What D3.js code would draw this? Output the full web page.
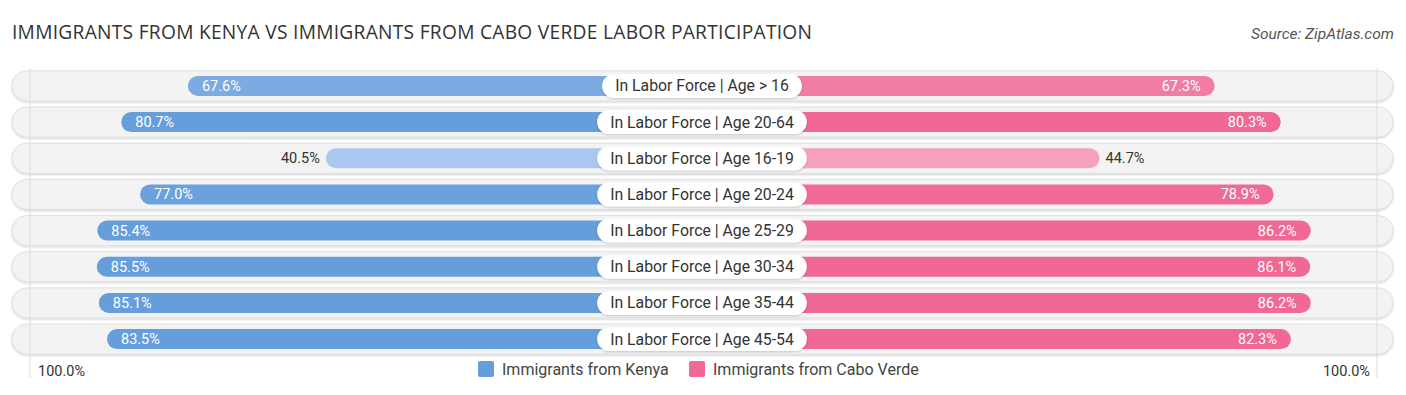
<!DOCTYPE html>
<html>
<head>
<meta charset="utf-8">
<script src="https://cdn.jsdelivr.net/npm/d3@7"></script>
<style>
  body { margin: 0; background: #fff; }
  svg { font-family: Roboto, "Open Sans", sans-serif; }
</style>
</head>
<body>
<svg id="chart" width="1406" height="395"></svg>
<script>
var categories = ["In Labor Force | Age > 16", "In Labor Force | Age 20-64", "In Labor Force | Age 16-19",
  "In Labor Force | Age 20-24", "In Labor Force | Age 25-29", "In Labor Force | Age 30-34",
  "In Labor Force | Age 35-44", "In Labor Force | Age 45-54"];
var kenya = [67.6, 80.7, 40.5, 77.0, 85.4, 85.5, 85.1, 83.5];
var caboVerde = [67.3, 80.3, 44.7, 78.9, 86.2, 86.1, 86.2, 82.3];
var seriesNames = ["Immigrants from Kenya", "Immigrants from Cabo Verde"];
var axisLabels = ["100.0%", "100.0%"];

var svg = d3.select("#chart");
var cx = 702, gap = 170;

var xl = d3.scaleLinear().domain([0, 100]).range([cx - gap, cx - gap - 509]);
var xr = d3.scaleLinear().domain([0, 100]).range([cx + gap, cx + gap + 509]);
var y = d3.scaleBand().domain(categories).range([68, 357]).paddingInner(0.17).paddingOuter(0.08);

// colour fades for the weaker values
var blue = d3.scaleLinear().domain([40, 80]).range(["#abc9ed", "#669edb"]).clamp(true);
var pink = d3.scaleLinear().domain([40, 80]).range(["#f7a9c3", "#f06894"]).clamp(true);

var defs = svg.append("defs");
var f = defs.append("filter").attr("id", "sh").attr("x", "-5%").attr("y", "-30%").attr("width", "110%").attr("height", "160%");
f.append("feDropShadow").attr("dx", 0).attr("dy", 1).attr("stdDeviation", 1).attr("flood-color", "#000").attr("flood-opacity", 0.2);

svg.append("text")
  .attr("x", 12).attr("y", 39)
  .attr("font-size", 19.2).attr("fill", "#333")
  .attr("textLength", 800).attr("lengthAdjust", "spacing")
  .style("font-family", "'Open Sans', sans-serif")
  .text("IMMIGRANTS FROM KENYA VS IMMIGRANTS FROM CABO VERDE LABOR PARTICIPATION");

svg.append("text")
  .attr("x", 1394).attr("y", 39).attr("text-anchor", "end")
  .attr("font-size", 15.5).attr("font-style", "italic").attr("fill", "#555")
  .text("Source: ZipAtlas.com");

var rows = svg.selectAll("g.row").data(categories).enter().append("g").attr("class", "row")
  .attr("transform", function(d) { return "translate(0," + y(d) + ")"; });

var bh = y.bandwidth();

rows.append("rect")
  .attr("x", 12).attr("y", 0).attr("width", 1381).attr("height", bh)
  .attr("rx", bh / 2).attr("fill", "#f3f3f3")
  .attr("stroke", "#e0e0e0").attr("stroke-width", 1)
  .attr("filter", "url(#sh)");

// thin guide lines at the 100% marks
[xl(100) + 7, xr(100) - 4].forEach(function(x) {
  svg.append("line").attr("x1", x).attr("x2", x).attr("y1", 68).attr("y2", 378)
    .attr("stroke", "#ddd").attr("stroke-width", 1);
});

var barH = 20, by = (bh - barH) / 2;

rows.append("rect")
  .attr("x", function(d, i) { return xl(kenya[i]); })
  .attr("y", by).attr("height", barH)
  .attr("width", function(d, i) { return cx - xl(kenya[i]); })
  .attr("rx", barH / 2)
  .attr("fill", function(d, i) { return blue(kenya[i]); });

rows.append("rect")
  .attr("x", cx)
  .attr("y", by).attr("height", barH)
  .attr("width", function(d, i) { return xr(caboVerde[i]) - cx; })
  .attr("rx", barH / 2)
  .attr("fill", function(d, i) { return pink(caboVerde[i]); });

function inside(v) { return v > 55; }

rows.append("text")
  .attr("x", function(d, i) { return inside(kenya[i]) ? xl(kenya[i]) + 14 : xl(kenya[i]) - 6; })
  .attr("y", bh / 2 + 5)
  .attr("text-anchor", function(d, i) { return inside(kenya[i]) ? "start" : "end"; })
  .attr("font-size", 14.5)
  .attr("fill", function(d, i) { return inside(kenya[i]) ? "#fff" : "#333"; })
  .text(function(d, i) { return kenya[i].toFixed(1) + "%"; });

rows.append("text")
  .attr("x", function(d, i) { return inside(caboVerde[i]) ? xr(caboVerde[i]) - 14 : xr(caboVerde[i]) + 6; })
  .attr("y", bh / 2 + 5)
  .attr("text-anchor", function(d, i) { return inside(caboVerde[i]) ? "end" : "start"; })
  .attr("font-size", 14.5)
  .attr("fill", function(d, i) { return inside(caboVerde[i]) ? "#fff" : "#333"; })
  .text(function(d, i) { return caboVerde[i].toFixed(1) + "%"; });

// centre label pills
rows.each(function(d) {
  var g = d3.select(this);
  var t = g.append("text")
    .attr("x", cx).attr("y", bh / 2 + 5.5)
    .attr("text-anchor", "middle").attr("font-size", 15.8).attr("fill", "#333")
    .text(d);
  var w = t.node().getComputedTextLength() + 26;
  g.insert("rect", "text")
    .attr("x", cx - w / 2).attr("y", bh / 2 - 12).attr("width", w).attr("height", 24)
    .attr("rx", 12).attr("fill", "#fff").attr("filter", "url(#sh)");
});

// bottom axis labels
svg.append("text").attr("x", 38).attr("y", 376).attr("font-size", 14.5).attr("fill", "#333").text(axisLabels[0]);
svg.append("text").attr("x", 1370).attr("y", 376).attr("text-anchor", "end").attr("font-size", 14.5).attr("fill", "#333").text(axisLabels[1]);

// legend
var legend = svg.append("g");
var lx = [478, 689], lc = ["#669edb", "#f06894"];
seriesNames.forEach(function(n, i) {
  legend.append("rect").attr("x", lx[i]).attr("y", 361).attr("width", 16).attr("height", 16)
    .attr("rx", 2).attr("fill", lc[i]);
  legend.append("text").attr("x", lx[i] + 24).attr("y", 375).attr("font-size", 16).attr("fill", "#444").text(n);
});
</script>
</body>
</html>
